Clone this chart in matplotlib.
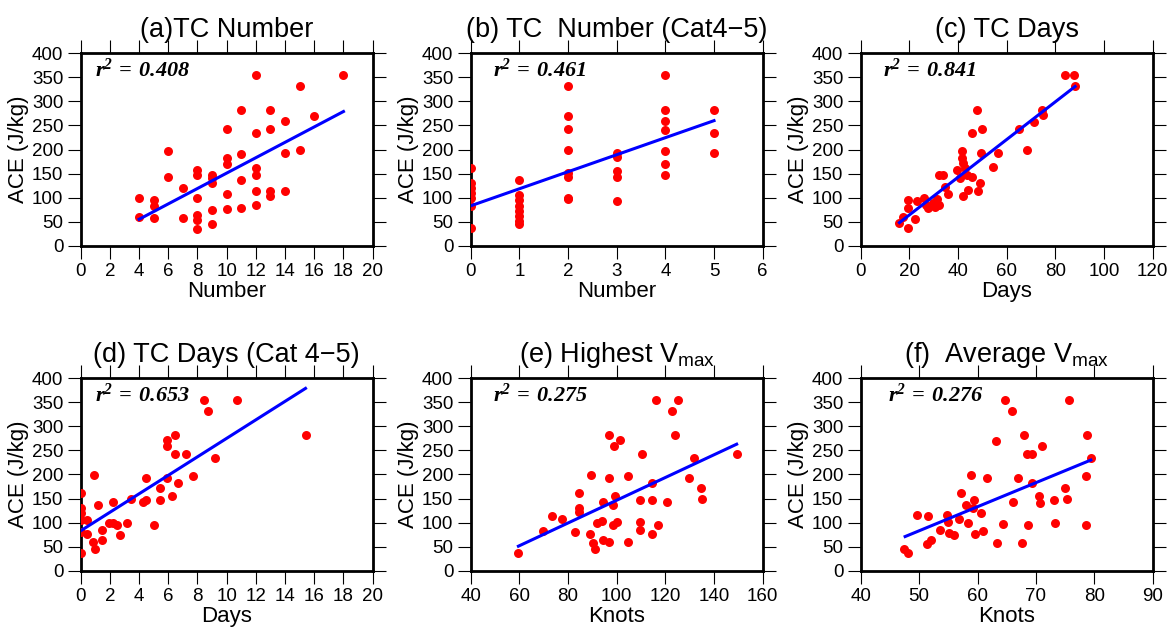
import numpy as np
import matplotlib
matplotlib.use('Agg')
from matplotlib import pyplot as plt

plt.rcParams['font.family'] = ['Liberation Sans', 'DejaVu Sans']
plt.rcParams['mathtext.fontset'] = 'custom'
plt.rcParams['mathtext.rm'] = 'Liberation Sans'
plt.rcParams['mathtext.it'] = 'Liberation Sans:italic'
# bold math is only used for the r^2 labels: serif bold italic
plt.rcParams['mathtext.bf'] = 'Liberation Serif:bold:italic'

# (a) TC number
a_x = [4, 4, 5, 5, 5, 6, 6, 7, 7, 8, 8, 8, 8, 8, 8, 9, 9, 9, 9, 9, 10, 10, 10, 10, 10,
       11, 11, 11, 11, 12, 12, 12, 12, 12, 12, 13, 13, 13, 13, 14, 14, 14, 15, 15, 16, 18]
a_y = [100, 60, 95, 83, 57, 197, 142, 121, 57, 157, 148, 100, 64, 53, 35, 148, 140, 130, 74, 46,
       242, 182, 170, 107, 76, 283, 191, 136, 78, 355, 234, 162, 147, 114, 85, 283, 242, 114, 103,
       259, 192, 114, 331, 199, 270, 355]
a_fit = ([4, 18], [55, 279])

# (b) TC number, cat 4-5
b_x = [0, 0, 0, 0, 0, 0, 0, 1, 1, 1, 1, 1, 1, 1, 1, 2, 2, 2, 2, 2, 2, 2, 2,
       3, 3, 3, 3, 3, 4, 4, 4, 4, 4, 4, 4, 5, 5, 5]
b_y = [162, 130, 120, 110, 100, 82, 36, 136, 105, 95, 82, 72, 62, 52, 45, 331, 270, 242, 199,
       152, 142, 100, 97, 192, 184, 156, 142, 93, 355, 283, 259, 240, 197, 170, 147, 283, 234, 192]
b_fit = ([0, 5], [83, 260])

# (c) TC days
c_x = [15.9, 17.5, 19.3, 19.3, 19.6, 22.3, 23, 25.8, 26.8, 27.8, 29.6, 30.5, 31.5, 32.3, 32.3,
       34, 34.7, 35.8, 39.5, 40.8, 41.8, 41.8, 42.2, 42.9, 42.2, 43.6, 44.2, 45.6, 45.6, 47.7,
       48.1, 49, 49.7, 49.3, 54.5, 56.3, 65.2, 68.5, 71.4, 74.8, 74.7, 84, 87.7, 88.1]
c_y = [48, 60, 36, 78, 96, 55, 93, 100, 85, 78, 88, 81, 98, 85, 148, 148, 123, 107, 157, 140,
       197, 182, 171, 161, 103, 147, 116, 234, 143, 283, 114, 131, 242, 192, 163, 192, 242, 199,
       258, 272, 283, 355, 355, 331]
c_fit = ([15.9, 88.1], [48, 331])

# (d) TC days, cat 4-5
d_x = [0, 0, 0, 0, 0, 0, 0.4, 0.4, 0.9, 0.87, 1.0, 1.2, 1.44, 1.44, 2.2, 1.96, 2.24, 2.47,
       2.7, 3.2, 3.42, 4.25, 4.5, 4.5, 5.0, 5.4, 5.4, 5.94, 5.94, 5.94, 6.23, 6.46, 6.46, 6.69,
       7.2, 7.7, 8.47, 8.74, 9.2, 10.73, 15.4]
d_y = [162, 130, 121, 105, 81, 36, 105, 76, 199, 60, 46, 137, 85, 64, 143, 100, 100, 94, 75,
       100, 150, 142, 147, 192, 96, 171, 148, 192, 272, 260, 155, 283, 242, 182, 242, 197, 355,
       331, 234, 355, 283]
d_fit = ([0, 15.4], [83, 379])

# (e) highest Vmax
e_x = [59.6, 69.6, 73.3, 77.7, 82.9, 84.5, 84.5, 84.5, 89, 89.3, 90.4, 91.1, 91.8, 94.1, 94.2,
       94.5, 96.8, 96.8, 96.8, 98.4, 98.4, 98.9, 99.5, 100, 101.4, 104.8, 104.8, 109.6, 109.6,
       109.6, 110.3, 114.4, 114.4, 114.4, 116.2, 117.1, 120.5, 122.6, 124, 125.3, 129.6, 131.8,
       134.5, 135.2, 149.3]
e_y = [36, 83, 114, 107, 80, 162, 131, 123, 76, 199, 57, 46, 100, 104, 64, 143, 192, 283, 59,
       136, 94, 259, 156, 102, 272, 197, 60, 102, 85, 148, 242, 183, 148, 76, 355, 96, 142, 331,
       283, 355, 192, 234, 171, 150, 242]
e_fit = ([59.6, 149.3], [51, 263])

# (f) average Vmax
f_x = [47.4, 48.1, 49.7, 51.3, 52, 51.6, 53.6, 54.7, 54.9, 55.1, 56, 56.9, 57.1, 58, 58.3, 58.9,
       59.3, 59.4, 59.6, 60.6, 60.9, 61.7, 63.1, 63.4, 64.3, 64.7, 65.9, 66.1, 67, 67.7, 68,
       68.5, 68.6, 69.4, 69.4, 70.6, 70.7, 71, 73.1, 73.3, 75, 75.3, 75.6, 78.5, 78.5, 78.7, 79.4]
f_y = [46, 36, 116, 55, 64, 114, 85, 116, 102, 78, 74, 107, 162, 137, 100, 199, 130, 147, 76,
       121, 82, 192, 270, 58, 98, 355, 331, 143, 192, 58, 283, 242, 95, 242, 182, 156, 141, 259,
       148, 100, 171, 150, 355, 197, 94, 283, 234]
f_fit = ([47.6, 79.4], [71, 230])

panels = [
    ('(a)TC Number', 'Number', a_x, a_y, a_fit, '0.408', (0, 20, 2), 0.048),
    ('(b) TC  Number (Cat4\u22125)', 'Number', b_x, b_y, b_fit, '0.461', (0, 6, 1), 0.077),
    ('(c) TC Days', 'Days', c_x, c_y, c_fit, '0.841', (0, 120, 20), 0.077),
    ('(d) TC Days (Cat 4\u22125)', 'Days', d_x, d_y, d_fit, '0.653', (0, 20, 2), 0.048),
    ('(e) Highest V$_{\\mathrm{max}}$', 'Knots', e_x, e_y, e_fit, '0.275', (40, 160, 20), 0.077),
    ('(f)  Average V$_{\\mathrm{max}}$', 'Knots', f_x, f_y, f_fit, '0.276', (40, 90, 10), 0.092),
]

fig = plt.figure(figsize=(11.73, 6.33), dpi=100)
lefts = [0.0688, 0.4013, 0.7338]
bottoms = [0.6118, 0.0984]
tick_font = ['Liberation Sans Narrow', 'Liberation Sans', 'DejaVu Sans']

for i, (title, xlabel, xs, ys, fit, r2, xr, tx) in enumerate(panels):
    ax = fig.add_axes([lefts[i % 3], bottoms[i // 3], 0.2489, 0.304])
    ax.scatter(xs, ys, s=42, color='#ff0000', zorder=3, linewidths=0)
    ax.plot(fit[0], fit[1], color='#0000ff', lw=2.2, zorder=4)
    ax.set_xlim(xr[0], xr[1])
    ax.set_ylim(0, 400)
    ax.set_xticks(np.arange(xr[0], xr[1] + 1, xr[2]))
    ax.set_yticks(np.arange(0, 401, 50))
    ax.tick_params(direction='out', length=9.5, width=0.8, top=True, right=True,
                   labelsize=13.5, pad=3)
    for lab in ax.get_xticklabels() + ax.get_yticklabels():
        lab.set_family(tick_font)
    for sp in ax.spines.values():
        sp.set_linewidth(2.0)
    ax.set_title(title, fontsize=19.5, pad=12)
    ax.set_xlabel(xlabel, fontsize=16, labelpad=1)
    ax.set_ylabel('ACE (J/kg)', fontsize=16, labelpad=2)
    ax.text(tx, 0.91, r'$\mathbf{r^2\,=\,' + r2 + '}$', transform=ax.transAxes,
            fontsize=16, va='center', ha='left')

plt.savefig('out.png', dpi=100)
